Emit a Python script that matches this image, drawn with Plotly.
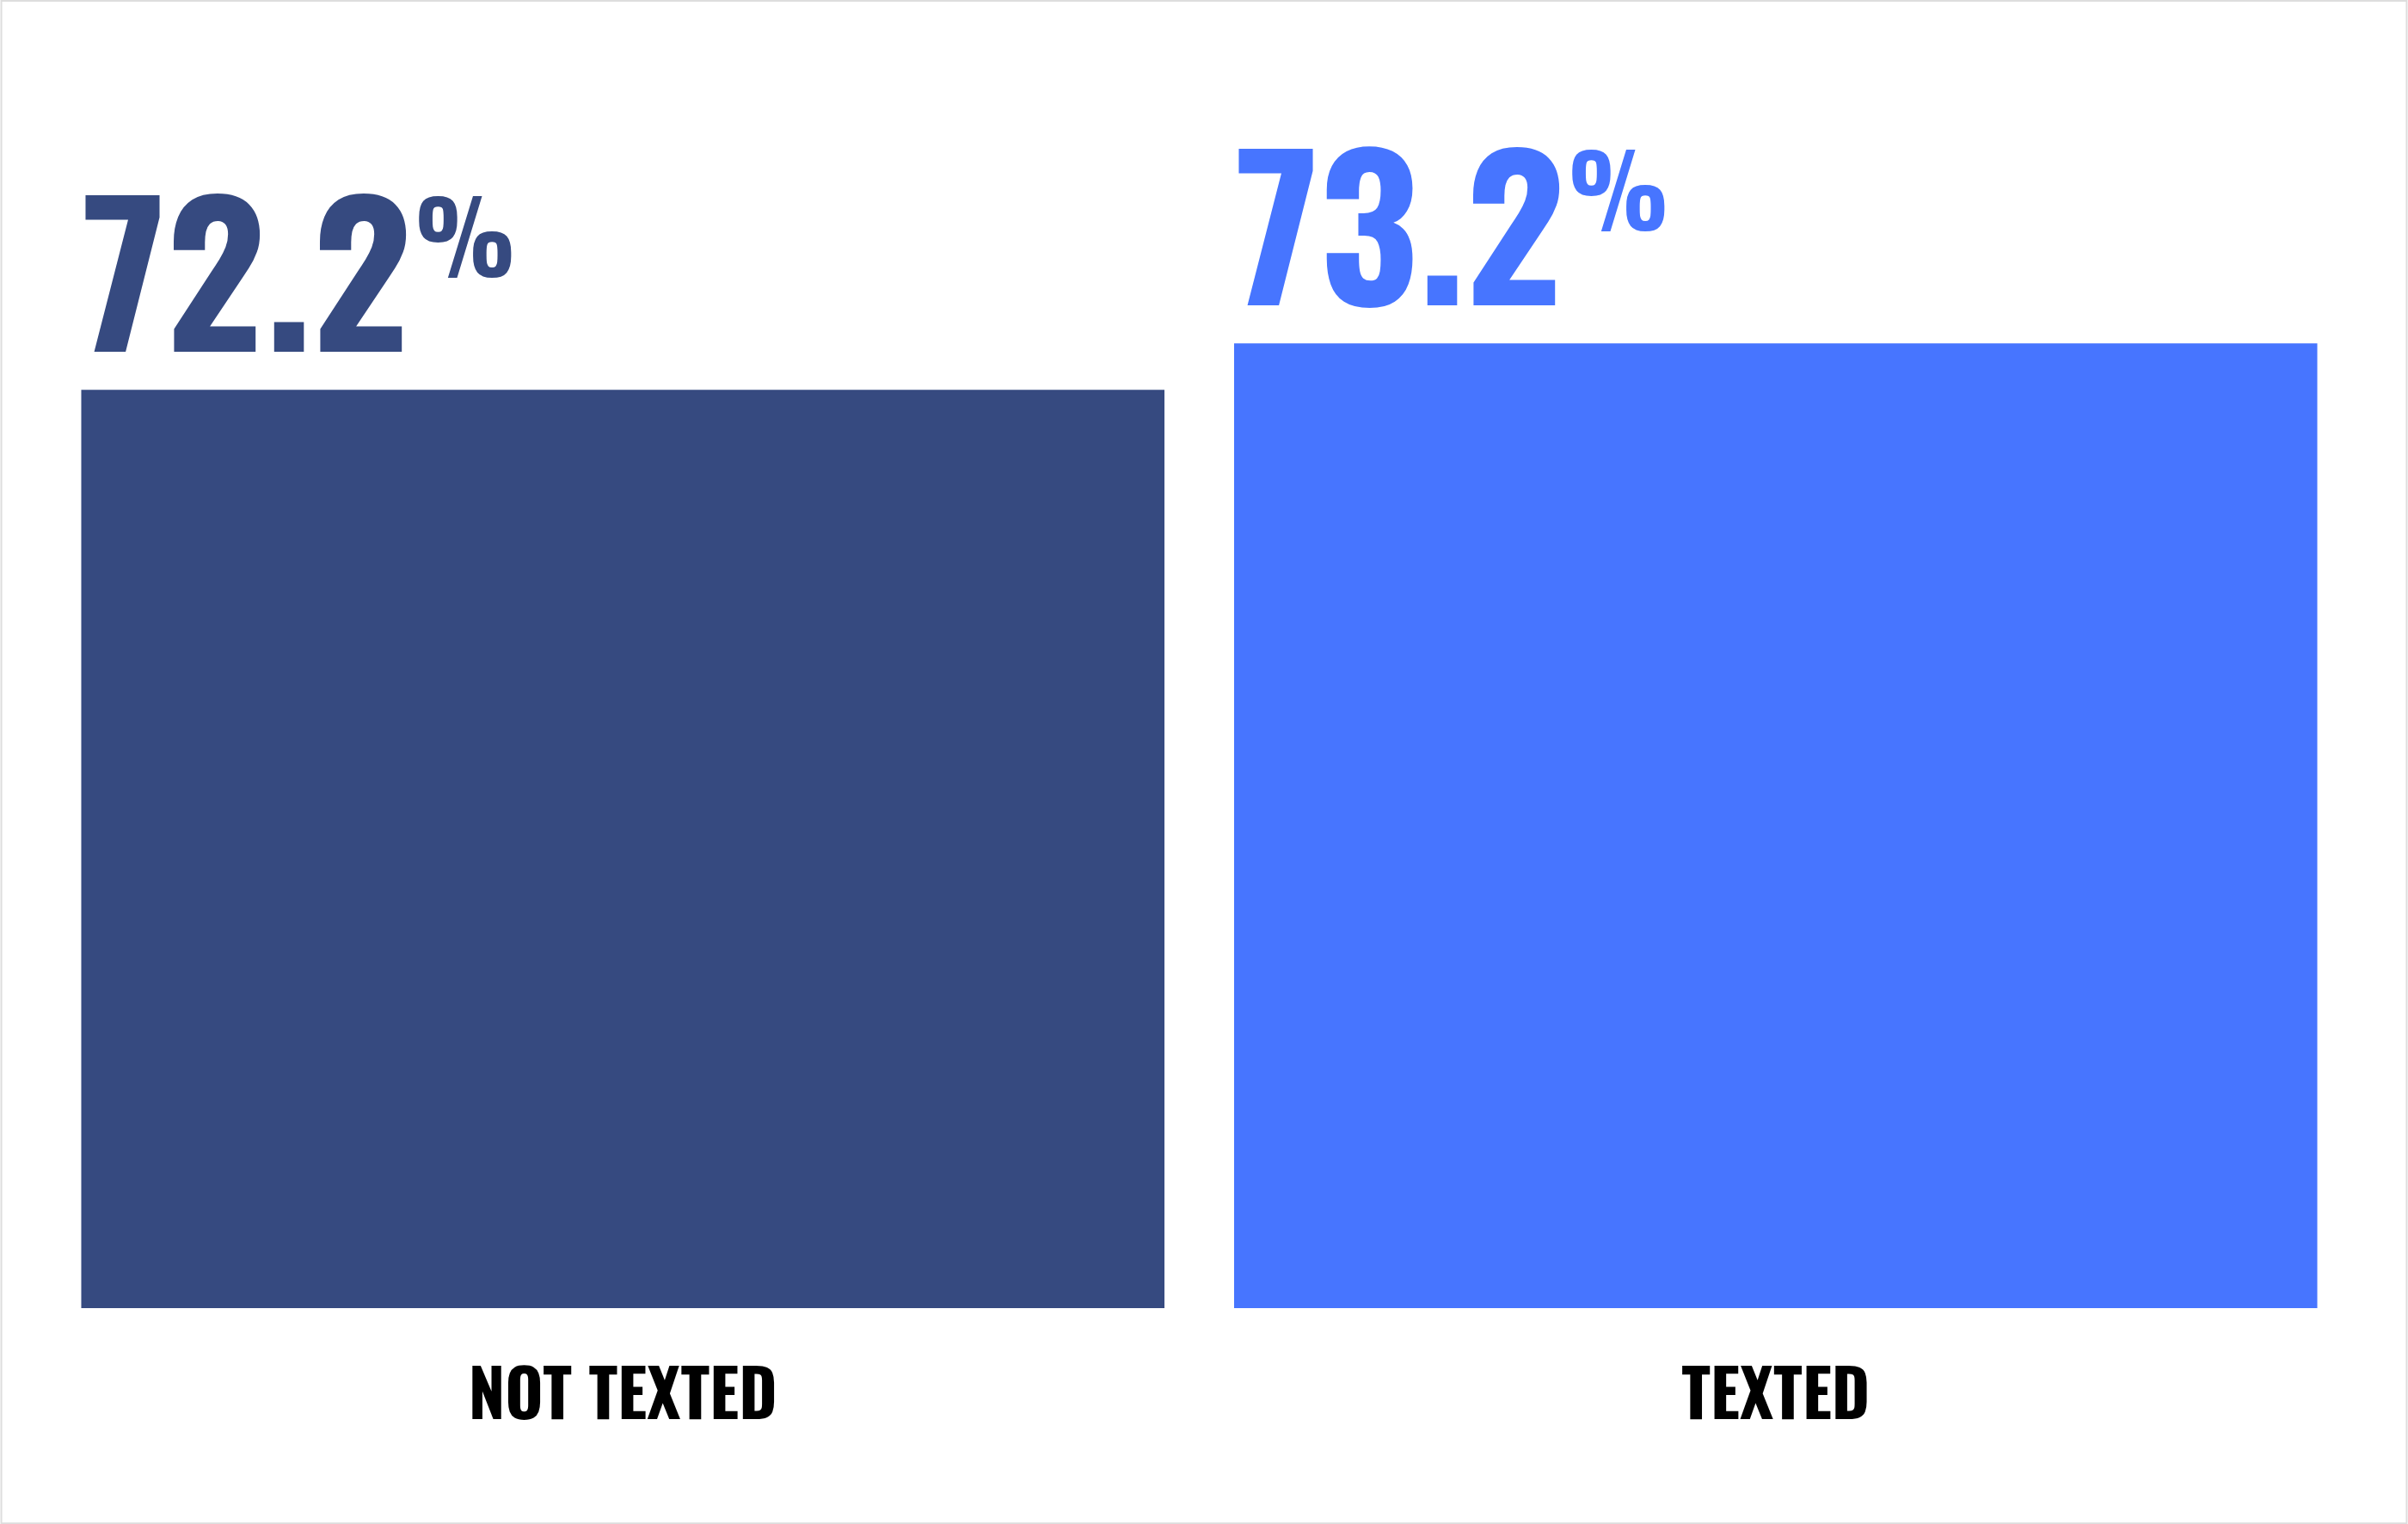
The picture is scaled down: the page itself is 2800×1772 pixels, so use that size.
import plotly.graph_objects as go

categories = ["NOT TEXTED", "TEXTED"]
values = [72.2, 73.2]
value_labels = ["72.2", "73.2"]
colors = ["#364A80", "#4775FF"]

W, H = 2800, 1772
ml, mr, mt, mb = 53.5, 64.5, 100, 251.3
pw = W - ml - mr
ph = H - mt - mb
bargap = 0.0604
y0, y1 = 52.43, 78.74

FONT = "Oswald, 'Bebas Neue', 'Liberation Sans Narrow', 'DejaVu Sans Condensed', 'Roboto Condensed', 'Arial Narrow', sans-serif"

fig = go.Figure(go.Bar(
    x=categories, y=values, marker=dict(color=colors, line=dict(width=0)),
    hoverinfo="skip", showlegend=False,
))

ann = []
for i, (v, lab) in enumerate(zip(values, value_labels)):
    left = i - 0.5 * (1 - bargap)
    ann.append(dict(x=left, y=v, xref="x", yref="y", text=lab, showarrow=False,
                    xanchor="left", yanchor="bottom", xshift=-1, yshift=-23,
                    font=dict(family=FONT, size=224, color=colors[i], weight="bold")))
    ann.append(dict(x=left, y=v, xref="x", yref="y", text="%", showarrow=False,
                    xanchor="left", yanchor="bottom", xshift=386, yshift=94,
                    font=dict(family=FONT, size=117, color=colors[i], weight="bold")))

fig.update_layout(
    width=W, height=H, margin=dict(l=ml, r=mr, t=mt, b=mb, pad=0),
    paper_bgcolor="white", plot_bgcolor="white", bargap=bargap,
    xaxis=dict(showgrid=False, zeroline=False, showline=False, ticks="",
               tickfont=dict(family=FONT, size=76, color="black", weight="bold"),
               ticklabelstandoff=52),
    yaxis=dict(range=[y0, y1], visible=False, showgrid=False),
    annotations=ann,
    shapes=[dict(type="rect", xref="paper", yref="paper",
                 x0=(1 - ml) / pw, x1=(W - 1 - ml) / pw,
                 y0=(1 - mb) / ph, y1=(H - mb - 1) / ph,
                 line=dict(color="#dddddd", width=2), fillcolor="rgba(0,0,0,0)", layer="above")],
)
fig.write_html("out.html", config={"displayModeBar": False},
               post_script="document.body.style.margin='0';document.body.style.padding='0';document.body.style.overflow='hidden';")
